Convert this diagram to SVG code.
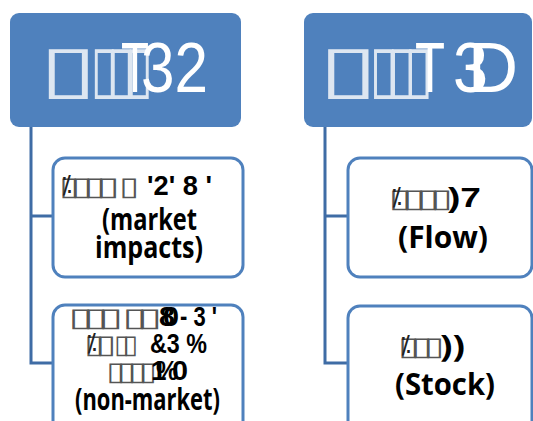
<svg xmlns="http://www.w3.org/2000/svg" width="533" height="421" viewBox="0 0 533 421">
  <defs>
    <style>
      .head { fill: #4F81BD; }
      .child { fill: #FFFFFF; stroke: #4F81BD; stroke-width: 3; }
      .conn { fill: none; stroke: #3F6CA5; stroke-width: 3; }
      .big { font-family: "Liberation Sans", Arial, sans-serif; font-size: 70px; fill: #FFFFFF; }
      .hbox { font-family: "DejaVu Sans", sans-serif; font-size: 65px; fill: #DDE6F1; }
      .tofu { font-family: "DejaVu Sans", sans-serif; font-size: 26px; fill: #555555; }
      .mark { font-family: "DejaVu Sans", sans-serif; font-size: 24px; fill: #222222; }
      .sym { font-family: "Liberation Sans", Arial, sans-serif; font-weight: bold; font-size: 28px; fill: #000000; }
      .lbl { font-family: "Open Sans", "Liberation Sans", sans-serif; font-weight: bold; font-size: 31px; fill: #000000; }
    </style>
  </defs>
  <rect width="533" height="421" fill="#FFFFFF"/>

  <!-- connectors -->
  <g id="connectors">
    <path class="conn" d="M31 127 V363 H53 M31 216 H53"/>
    <path class="conn" d="M325 127 V363 H348 M325 216 H348"/>
  </g>

  <!-- left header -->
  <g id="head-t32">
    <rect class="head" x="10" y="13" width="231" height="114" rx="9"/>
    <text class="hbox" x="39.3" y="91" textLength="58" lengthAdjust="spacingAndGlyphs">▯</text>
    <text class="hbox" x="90.3" y="91" textLength="28" lengthAdjust="spacingAndGlyphs">▯</text>
    <text class="hbox" x="107.3" y="91" textLength="28" lengthAdjust="spacingAndGlyphs">▯</text>
    <text class="hbox" x="125.3" y="91" textLength="28" lengthAdjust="spacingAndGlyphs">▯</text>
    <text class="big" x="121" y="92" textLength="28" lengthAdjust="spacingAndGlyphs">T</text>
    <text class="big" x="141" y="92" textLength="67" lengthAdjust="spacingAndGlyphs">32</text>
  </g>

  <!-- right header -->
  <g id="head-t3d">
    <rect class="head" x="304" y="13" width="228" height="114" rx="9"/>
    <text class="hbox" x="318.3" y="91" textLength="60" lengthAdjust="spacingAndGlyphs">▯</text>
    <text class="hbox" x="369.3" y="91" textLength="29" lengthAdjust="spacingAndGlyphs">▯</text>
    <text class="hbox" x="387.3" y="91" textLength="29" lengthAdjust="spacingAndGlyphs">▯</text>
    <text class="hbox" x="404.3" y="91" textLength="29" lengthAdjust="spacingAndGlyphs">▯</text>
    <text class="big" x="415" y="92" textLength="30" lengthAdjust="spacingAndGlyphs">T</text>
    <text class="big" x="453" y="92" textLength="35" lengthAdjust="spacingAndGlyphs">3</text>
    <text class="big" x="468" y="92" textLength="50" lengthAdjust="spacingAndGlyphs">D</text>
  </g>

  <!-- left children -->
  <g id="market">
    <rect class="child" x="53" y="158" width="190" height="119" rx="12"/>
    <text class="tofu" x="59" y="195" textLength="20" lengthAdjust="spacingAndGlyphs">▯</text>
    <text class="tofu" x="70.7" y="195" textLength="21.7" lengthAdjust="spacingAndGlyphs">▯</text>
    <text class="tofu" x="83.7" y="195" textLength="21.7" lengthAdjust="spacingAndGlyphs">▯</text>
    <text class="tofu" x="96.3" y="195" textLength="23.3" lengthAdjust="spacingAndGlyphs">▯</text>
    <text class="tofu" x="119" y="195" textLength="20" lengthAdjust="spacingAndGlyphs">▯</text>
    <text class="mark" x="61" y="193">⁒</text>
    <text class="sym" x="147" y="195" textLength="65" lengthAdjust="spacingAndGlyphs">'2' 8 '</text>
    <text class="lbl" x="102" y="230" textLength="95" lengthAdjust="spacingAndGlyphs">(market</text>
    <text class="lbl" x="95" y="258" textLength="108" lengthAdjust="spacingAndGlyphs">impacts)</text>
  </g>

  <g id="non-market">
    <rect class="child" x="53" y="305" width="190" height="135" rx="12"/>
    <text class="tofu" x="68" y="326" textLength="25" lengthAdjust="spacingAndGlyphs">▯</text>
    <text class="tofu" x="83" y="326" textLength="25" lengthAdjust="spacingAndGlyphs">▯</text>
    <text class="tofu" x="98" y="326" textLength="25" lengthAdjust="spacingAndGlyphs">▯</text>
    <text class="tofu" x="122" y="326" textLength="25" lengthAdjust="spacingAndGlyphs">▯</text>
    <text class="tofu" x="137" y="326" textLength="25" lengthAdjust="spacingAndGlyphs">▯</text>
    <text class="sym" x="159" y="326" textLength="16" lengthAdjust="spacingAndGlyphs">8</text>
    <text class="sym" x="163" y="326" textLength="16" lengthAdjust="spacingAndGlyphs">0</text>
    <text class="sym" x="180" y="326" textLength="37" lengthAdjust="spacingAndGlyphs">- 3 '</text>
    <text class="tofu" x="84" y="353" textLength="20" lengthAdjust="spacingAndGlyphs">▯</text>
    <text class="tofu" x="96" y="353" textLength="20" lengthAdjust="spacingAndGlyphs">▯</text>
    <text class="tofu" x="114" y="353" textLength="15" lengthAdjust="spacingAndGlyphs">▯</text>
    <text class="tofu" x="123" y="353" textLength="15" lengthAdjust="spacingAndGlyphs">▯</text>
    <text class="mark" x="86" y="351">⁒</text>
    <text class="sym" x="150" y="353" textLength="57" lengthAdjust="spacingAndGlyphs">&amp;3 %</text>
    <text class="tofu" x="106.3" y="380" textLength="18.3" lengthAdjust="spacingAndGlyphs">▯</text>
    <text class="tofu" x="117.3" y="380" textLength="18.3" lengthAdjust="spacingAndGlyphs">▯</text>
    <text class="tofu" x="128.3" y="380" textLength="18.3" lengthAdjust="spacingAndGlyphs">▯</text>
    <text class="tofu" x="139.7" y="380" textLength="16.7" lengthAdjust="spacingAndGlyphs">▯</text>
    <text class="sym" x="151" y="380">1</text>
    <text class="sym" x="156" y="380" textLength="22" lengthAdjust="spacingAndGlyphs">%</text>
    <text class="sym" x="172" y="380" textLength="16" lengthAdjust="spacingAndGlyphs">0</text>
    <text class="lbl" x="75" y="410" textLength="145" lengthAdjust="spacingAndGlyphs">(non-market)</text>
  </g>

  <!-- right children -->
  <g id="flow">
    <rect class="child" x="348" y="158" width="184" height="119" rx="12"/>
    <text class="tofu" x="388.3" y="207" font-size="36" textLength="23.3" lengthAdjust="spacingAndGlyphs">▯</text>
    <text class="tofu" x="402.3" y="207" font-size="36" textLength="23.3" lengthAdjust="spacingAndGlyphs">▯</text>
    <text class="tofu" x="416.3" y="207" font-size="36" textLength="23.3" lengthAdjust="spacingAndGlyphs">▯</text>
    <text class="tofu" x="430.7" y="207" font-size="36" textLength="21.7" lengthAdjust="spacingAndGlyphs">▯</text>
    <text class="mark" x="391" y="205" font-size="30">⁒</text>
    <text class="sym" x="448" y="207" font-size="33" textLength="33" lengthAdjust="spacingAndGlyphs">)7</text>
    <text class="lbl" x="398" y="248" textLength="90" lengthAdjust="spacingAndGlyphs">(Flow)</text>
  </g>

  <g id="stock">
    <rect class="child" x="348" y="306" width="184" height="135" rx="12"/>
    <text class="tofu" x="397.7" y="355" font-size="30" textLength="21.7" lengthAdjust="spacingAndGlyphs">▯</text>
    <text class="tofu" x="410.7" y="355" font-size="30" textLength="21.7" lengthAdjust="spacingAndGlyphs">▯</text>
    <text class="tofu" x="424" y="355" font-size="30" textLength="20" lengthAdjust="spacingAndGlyphs">▯</text>
    <text class="mark" x="400" y="353" font-size="27">⁒</text>
    <text class="lbl" x="440" y="357" textLength="25" lengthAdjust="spacingAndGlyphs">))</text>
    <text class="lbl" x="395" y="395" textLength="100" lengthAdjust="spacingAndGlyphs">(Stock)</text>
  </g>
</svg>
